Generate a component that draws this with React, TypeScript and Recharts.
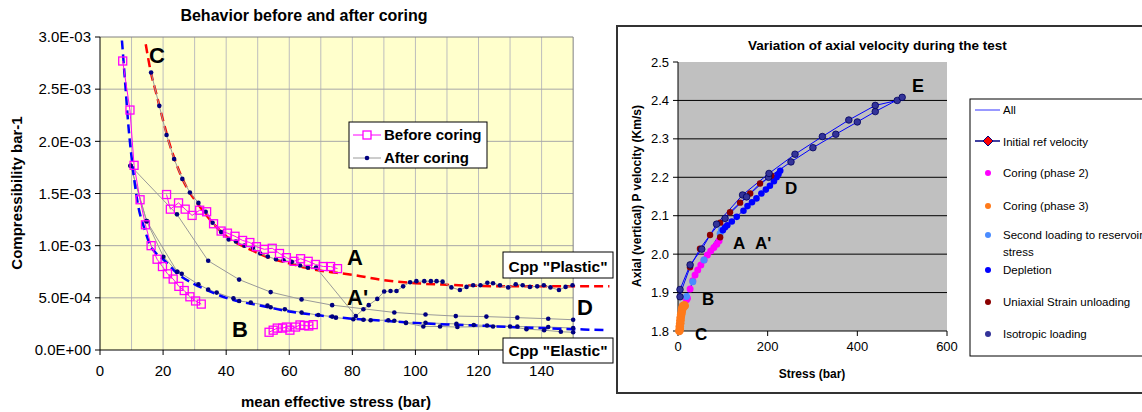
import React from 'react'
import { ComposedChart, Line, XAxis, YAxis, ReferenceLine } from 'recharts'

const FONT = '"Liberation Sans", Arial, sans-serif'

// ---- left chart: compressibility (values in 1E-03 bar-1) ----
const leftXTicks = [0, 20, 40, 60, 80, 100, 120, 140]
const leftYTicks = [0, 0.5, 1, 1.5, 2, 2.5, 3]
const leftYTickLabels = ['0.0E+00', '5.0E-04', '1.0E-03', '1.5E-03', '2.0E-03', '2.5E-03', '3.0E-03']
const leftVGrid = [10, 20, 30, 40, 50, 60, 70, 80, 90, 100, 110, 120, 130, 140]
const leftHGrid = [0.5, 1, 1.5, 2, 2.5]

const beforeSteep = [[7.2, 2.77], [9.5, 2.3], [10.8, 1.77], [12.7, 1.44], [14.4, 1.2], [16.2, 1.0], [18.1, 0.87], [19.8, 0.8], [21.4, 0.73], [23.2, 0.68], [25, 0.61], [26.7, 0.57], [28.5, 0.51], [30.3, 0.47], [32.1, 0.44]]
const beforeUpper = [[21.1, 1.49], [22.3, 1.35], [24.9, 1.41], [27, 1.35], [29.2, 1.29], [31.6, 1.34], [33.8, 1.325], [36, 1.21], [38.4, 1.14], [40.4, 1.12], [42.8, 1.09], [45.2, 1.05], [47.5, 1.03], [49.6, 0.99], [52.1, 0.965], [54.6, 0.975], [56.9, 0.925], [59.1, 0.885], [61.5, 0.85], [63.6, 0.875], [66, 0.85], [68.3, 0.82], [70.8, 0.8], [73.1, 0.8], [75.3, 0.78]]
const beforeB = [[53.6, 0.17], [54.9, 0.19], [56.2, 0.21], [57.9, 0.21], [59.1, 0.22], [60.2, 0.19], [62, 0.22], [63.4, 0.24], [64.8, 0.235], [66.2, 0.23], [67.6, 0.243]]

const afterMain = [[16.2, 2.66], [18.8, 2.34], [21.1, 2.06], [23.5, 1.83], [26.1, 1.64], [28.5, 1.51], [31.2, 1.41], [33.5, 1.325], [35.7, 1.22], [38.4, 1.13], [40.8, 1.06], [43.1, 1.04], [45.8, 1.0], [48.5, 0.98], [50.8, 0.925], [53.2, 0.895], [55.8, 0.87], [58.2, 0.86], [60.8, 0.845], [63.4, 0.81], [65.9, 0.79], [68.5, 0.79], [81.1, 0.325], [83.5, 0.39], [85.2, 0.43], [87.9, 0.49], [90.1, 0.56], [92.1, 0.565], [94, 0.565], [96.1, 0.61], [98.3, 0.65], [100.3, 0.66], [102.8, 0.66], [104.9, 0.66], [106.7, 0.66], [108.6, 0.655], [111.4, 0.6], [114.1, 0.575], [116.2, 0.605], [118.3, 0.62], [120.6, 0.62], [122.8, 0.645], [124.6, 0.64], [126.8, 0.62], [129.4, 0.6], [131.8, 0.63], [134, 0.62], [136.3, 0.605], [138.6, 0.61], [140.7, 0.62], [142.8, 0.6], [145.5, 0.575], [147.6, 0.605], [149.8, 0.62]]
const afterUnload = [[9.7, 1.765], [24.4, 1.3], [34.3, 0.855], [44.1, 0.675], [54.1, 0.555], [63.9, 0.485], [73.6, 0.43], [93.3, 0.36], [103.2, 0.34], [112.8, 0.325], [122.5, 0.32], [132.3, 0.31], [142.1, 0.3], [150, 0.29]]
const afterElastic = [[9.7, 1.765], [14.8, 1.235], [20.1, 0.894], [24.5, 0.75], [25.9, 0.73], [31.2, 0.63], [34.3, 0.58], [37, 0.55], [42.3, 0.495], [44.1, 0.47], [47.8, 0.455], [53.1, 0.425], [54.1, 0.41], [58.6, 0.39], [63.9, 0.36], [69.2, 0.335], [73.6, 0.32], [74.8, 0.31], [80.3, 0.295], [83.5, 0.29], [85.8, 0.285], [91.4, 0.285], [93.3, 0.28], [97, 0.26], [103.2, 0.26], [113, 0.25], [118.5, 0.24], [122.7, 0.235], [132.3, 0.225], [142.1, 0.22], [150, 0.21]]
const afterLower = [[97, 0.26], [102.5, 0.225], [107.8, 0.225], [113.3, 0.22], [124.6, 0.225], [130, 0.225], [135.2, 0.2], [140.8, 0.19], [146.1, 0.175], [150, 0.17]]
const afterSecond = [[9.7, 1.765], [14.8, 1.235], [24.5, 0.75]]

const plasticFit = [[14.5, 2.93], [16, 2.68], [18, 2.44], [20, 2.2], [22, 1.98], [24, 1.8], [26, 1.65], [28, 1.53], [30, 1.44], [33, 1.32], [36, 1.21], [40, 1.09], [45, 1.0], [50, 0.93], [55, 0.87], [60, 0.83], [65, 0.79], [70, 0.76], [75, 0.74], [80, 0.72], [90, 0.67], [100, 0.64], [110, 0.625], [120, 0.615], [130, 0.61], [140, 0.61], [150, 0.61], [161.5, 0.61]]
const elasticFit = [[6.6, 3.1], [7, 2.95], [8, 2.55], [9, 2.15], [10, 1.85], [11, 1.6], [12, 1.4], [14, 1.17], [16, 1.0], [18, 0.92], [20, 0.87], [25, 0.72], [30, 0.63], [35, 0.56], [40, 0.5], [45, 0.46], [50, 0.43], [60, 0.37], [70, 0.33], [80, 0.3], [90, 0.28], [100, 0.26], [110, 0.245], [120, 0.235], [130, 0.22], [140, 0.21], [150, 0.2], [161, 0.19]]

// ---- right chart: axial P velocity (Km/s) vs stress (bar) ----
const rightXTicks = [0, 200, 400, 600]
const rightYTicks = [1.8, 1.9, 2.0, 2.1, 2.2, 2.3, 2.4, 2.5]
const rightHGrid = [1.9, 2.0, 2.1, 2.2, 2.3, 2.4]

const coringPhase2 = [[19, 1.881], [21, 1.885], [27, 1.909], [33, 1.931], [38, 1.946], [44, 1.959], [51, 1.972], [58, 1.985], [65.5, 1.998], [73, 2.008], [80, 2.017], [86.5, 2.026], [91.6, 2.035]]
const coringPhase3 = [[3, 1.8], [4, 1.805], [4, 1.812], [5, 1.82], [5.5, 1.828], [6, 1.835], [7, 1.842], [8, 1.848], [9, 1.855], [10, 1.86], [11, 1.864], [13, 1.866], [15, 1.866]]
const secondLoading = [[4.5, 1.82], [12, 1.862], [19, 1.89], [33, 1.928], [58, 1.985], [94, 2.054], [97, 2.063]]
const depletion = [[100, 2.062], [105, 2.07], [110, 2.075], [120, 2.085], [131, 2.097], [146, 2.113], [155, 2.125], [165, 2.135], [175, 2.145], [186, 2.158], [196, 2.168], [205, 2.178], [214, 2.19], [220, 2.2], [224, 2.208], [228, 2.217]]
const uniaxialUnload = [[208, 2.204], [183, 2.184], [161, 2.158], [138.5, 2.134], [116, 2.109], [94, 2.082], [71.5, 2.05], [49, 2.014], [26.8, 1.966], [94, 2.044]]
const isotropic = [[4.5, 1.889], [4.5, 1.908], [27, 1.972], [53, 2.013], [86, 2.078], [105, 2.093], [144, 2.154], [153, 2.149], [202, 2.2], [203, 2.21], [252, 2.24], [261, 2.26], [301, 2.277], [322, 2.306], [352, 2.312], [381, 2.349], [400, 2.344], [440, 2.371], [440, 2.387], [489, 2.4], [500, 2.408]]

const allLoadUp = [[4.5, 1.889], [4.5, 1.908], [27, 1.972], [53, 2.013], [86, 2.078], [144, 2.154], [203, 2.21], [261, 2.26], [322, 2.306], [381, 2.349], [440, 2.387], [489, 2.4], [500, 2.408]]
const allLoadDown = [[500, 2.408], [440, 2.371], [400, 2.344], [352, 2.312], [301, 2.277], [252, 2.24], [202, 2.2], [153, 2.149], [105, 2.093], [86, 2.078]]
const allUniaxial = [[228, 2.217], [208, 2.204], [183, 2.184], [161, 2.158], [138.5, 2.134], [116, 2.109], [94, 2.082], [71.5, 2.05], [49, 2.014], [26.8, 1.966], [4.5, 1.895]]
const allDepletion = [[3, 1.8], [4.5, 1.82], [12, 1.862], [19, 1.89], [33, 1.928], [58, 1.985], [94, 2.054], [97, 2.063], [100, 2.062], [110, 2.075], [131, 2.097], [155, 2.125], [175, 2.145], [196, 2.168], [214, 2.19], [228, 2.217]]

const pts = (a: number[][]) => a.map(([x, y]) => ({ x, y }))

const navyDot = (p: any) => <circle key={`n${p.index}`} cx={p.cx} cy={p.cy} r={2.3} fill="#000080" />
const pinkSquare = (p: any) => (
  <rect key={`s${p.index}`} x={p.cx - 4} y={p.cy - 4} width={8} height={8} fill="none" stroke="#FF00FF" strokeWidth={1.3} />
)
const circleDot = (fill: string, r: number, stroke?: string) => (p: any) => (
  <circle key={`c${p.index}`} cx={p.cx} cy={p.cy} r={r} fill={fill} stroke={stroke || 'none'} strokeWidth={0.8} />
)

function LeftChart() {
  const tick = { fontSize: 15, fill: '#000', fontFamily: FONT }
  return (
    <ComposedChart width={620} height={412} margin={{ top: 37, right: 9, bottom: 32, left: 10 }}>
      <XAxis dataKey="x" type="number" domain={[0, 162]} ticks={leftXTicks} axisLine={false}
        tickLine={{ stroke: '#000' }} tickSize={5} tickMargin={10} tick={tick} height={30} />
      <YAxis dataKey="y" type="number" domain={[0, 3]} ticks={leftYTicks} allowDataOverflow width={90}
        axisLine={{ stroke: '#000' }} tickLine={{ stroke: '#000' }} tickSize={5} tickMargin={4} tick={tick}
        tickFormatter={(v: number) => leftYTickLabels[leftYTicks.indexOf(v)]} />
      {leftVGrid.map((v) => (
        <ReferenceLine key={`v${v}`} x={v} stroke="#BDBDBD" strokeWidth={1} />
      ))}
      {leftHGrid.map((v) => (
        <ReferenceLine key={`h${v}`} segment={[{ x: 0, y: v }, { x: 150, y: v }]} stroke="#A8A8A8" strokeWidth={1} />
      ))}
      <ReferenceLine segment={[{ x: 0, y: 3 }, { x: 150, y: 3 }]} stroke="#808080" />
      <ReferenceLine segment={[{ x: 150, y: 0 }, { x: 150, y: 3 }]} stroke="#808080" />
      <ReferenceLine segment={[{ x: 0, y: 0 }, { x: 150, y: 0 }]} stroke="#000" />

      <Line data={pts(afterUnload)} dataKey="y" stroke="#9A9A9A" strokeWidth={1} dot={navyDot} isAnimationActive={false} />
      <Line data={pts(afterSecond)} dataKey="y" stroke="#9A9A9A" strokeWidth={1} dot={navyDot} isAnimationActive={false} />
      <Line data={pts(afterLower)} dataKey="y" stroke="#9A9A9A" strokeWidth={1} dot={navyDot} isAnimationActive={false} />
      <Line data={pts(afterElastic)} dataKey="y" stroke="#9A9A9A" strokeWidth={1} dot={navyDot} isAnimationActive={false} />
      <Line data={pts(elasticFit)} dataKey="y" type="monotone" stroke="#0000FF" strokeWidth={2.5} strokeDasharray="9 5" dot={false} isAnimationActive={false} />
      <Line data={pts(plasticFit)} dataKey="y" type="monotone" stroke="#FF0000" strokeWidth={2.5} strokeDasharray="9 5" dot={false} isAnimationActive={false} />
      <Line data={pts(afterMain)} dataKey="y" stroke="#9A9A9A" strokeWidth={1} dot={navyDot} isAnimationActive={false} />
      <Line data={pts(beforeSteep)} dataKey="y" stroke="#FF00FF" strokeWidth={1} dot={pinkSquare} isAnimationActive={false} />
      <Line data={pts(beforeUpper)} dataKey="y" stroke="#FF00FF" strokeWidth={1} dot={pinkSquare} isAnimationActive={false} />
      <Line data={pts(beforeB)} dataKey="y" stroke="#FF00FF" strokeWidth={1} dot={pinkSquare} isAnimationActive={false} />
    </ComposedChart>
  )
}

function RightChart() {
  const tick = { fontSize: 13, fill: '#000', fontFamily: FONT }
  return (
    <ComposedChart width={340} height={366} margin={{ top: 36, right: 13, bottom: 31, left: 18 }}>
      <XAxis dataKey="x" type="number" domain={[0, 600]} ticks={rightXTicks} axisLine={{ stroke: '#000' }}
        tickLine={{ stroke: '#000' }} tickSize={5} tickMargin={6} tick={tick} height={30} />
      <YAxis dataKey="y" type="number" domain={[1.8, 2.5]} ticks={rightYTicks} width={40}
        axisLine={{ stroke: '#000' }} tickLine={{ stroke: '#000' }} tickSize={5} tickMargin={4} tick={tick}
        tickFormatter={(v: number) => v.toFixed(1)} />
      {rightHGrid.map((v) => (
        <ReferenceLine key={`g${v}`} y={v} stroke="#000" strokeWidth={1} />
      ))}
      <Line data={pts(allDepletion)} dataKey="y" stroke="#0000FF" strokeWidth={1} dot={false} isAnimationActive={false} />
      <Line data={pts(allUniaxial)} dataKey="y" stroke="#0000FF" strokeWidth={1} dot={false} isAnimationActive={false} />
      <Line data={pts(allLoadUp)} dataKey="y" stroke="#0000FF" strokeWidth={1} dot={false} isAnimationActive={false} />
      <Line data={pts(allLoadDown)} dataKey="y" stroke="#0000FF" strokeWidth={1} dot={false} isAnimationActive={false} />
      <Line data={pts(coringPhase2)} dataKey="y" stroke="none" dot={circleDot('#FF00FF', 3.5)} isAnimationActive={false} />
      <Line data={pts(secondLoading)} dataKey="y" stroke="none" dot={circleDot('#4A8CFF', 3.5)} isAnimationActive={false} />
      <Line data={pts(coringPhase3)} dataKey="y" stroke="none" dot={circleDot('#FF7A1A', 4.3)} isAnimationActive={false} />
      <Line data={pts(depletion)} dataKey="y" stroke="none" dot={circleDot('#0000FF', 3.3)} isAnimationActive={false} />
      <Line data={pts(uniaxialUnload)} dataKey="y" stroke="none" dot={circleDot('#8B0000', 3.2)} isAnimationActive={false} />
      <Line data={pts(isotropic)} dataKey="y" stroke="none" dot={circleDot('#333399', 3.3, '#00005A')} isAnimationActive={false} />
    </ComposedChart>
  )
}

const rightLegend = [
  { label: 'Coring (phase 2)', color: '#FF00FF', y: 173 },
  { label: 'Coring (phase 3)', color: '#FF7A1A', y: 206 },
  { label: 'Second loading to reservoir', color: '#4A8CFF', y: 235 },
  { label: 'Depletion', color: '#0000FF', y: 270 },
  { label: 'Uniaxial Strain unloading', color: '#8B0000', y: 302 },
  { label: 'Isotropic loading', color: '#333399', y: 334 },
]

function Overlay() {
  const bold = { fontFamily: FONT, fontWeight: 700 }
  return (
    <svg width={1142} height={412} style={{ position: 'absolute', left: 0, top: 0, pointerEvents: 'none' }}>
      {/* left chart texts */}
      <text x={304} y={21} textAnchor="middle" fontSize={16} {...bold}>Behavior before and after coring</text>
      <text x={22} y={193} textAnchor="middle" fontSize={15} transform="rotate(-90 22 193)" {...bold}>Compressibility bar-1</text>
      <text x={336} y={407} textAnchor="middle" fontSize={15} {...bold}>mean effective stress (bar)</text>

      <rect x={349} y={122} width={138} height={46} fill="#fff" stroke="#000" />
      <line x1={353} y1={135} x2={381} y2={135} stroke="#FF00FF" />
      <rect x={363} y={131} width={8} height={8} fill="#fff" stroke="#FF00FF" strokeWidth={1.3} />
      <text x={384} y={140} fontSize={15} {...bold}>Before coring</text>
      <line x1={353} y1={158} x2={381} y2={158} stroke="#9A9A9A" />
      <circle cx={367} cy={158} r={2.3} fill="#000080" />
      <text x={384} y={163} fontSize={15} {...bold}>After coring</text>

      <text x={149} y={63} fontSize={22} {...bold}>C</text>
      <text x={347} y={265} fontSize={22} {...bold}>A</text>
      <text x={347} y={305} fontSize={22} {...bold}>A'</text>
      <text x={232} y={337} fontSize={22} {...bold}>B</text>
      <text x={577} y={315} fontSize={22} {...bold}>D</text>

      <rect x={503} y={252} width={110} height={26} fill="#fff" stroke="#000" />
      <text x={558} y={272} textAnchor="middle" fontSize={15.5} {...bold}>Cpp "Plastic"</text>
      <rect x={503} y={338} width={110} height={25} fill="#fff" stroke="#000" />
      <text x={558} y={356} textAnchor="middle" fontSize={15.5} {...bold}>Cpp "Elastic"</text>

      {/* right chart frame and texts */}
      <rect x={617} y={26} width={540} height={367} fill="none" stroke="#333" strokeWidth={2} />
      <text x={748} y={50} fontSize={13.5} {...bold}>Variation of axial velocity during the test</text>
      <text x={641} y={196} textAnchor="middle" fontSize={12} transform="rotate(-90 641 196)" {...bold}>Axial (vertical) P velocity (Km/s)</text>
      <text x={812} y={378} textAnchor="middle" fontSize={12} {...bold}>Stress (bar)</text>
      <text x={912} y={92} fontSize={18} {...bold}>E</text>
      <text x={785} y={194} fontSize={17} {...bold}>D</text>
      <text x={733} y={249} fontSize={17} {...bold}>A</text>
      <text x={755} y={249} fontSize={17} {...bold}>A'</text>
      <text x={702} y={305} fontSize={17} {...bold}>B</text>
      <text x={695} y={340} fontSize={17} {...bold}>C</text>

      <rect x={970} y={99} width={200} height={257} fill="#fff" stroke="#000" />
      <line x1={975} y1={110} x2={1000} y2={110} stroke="#3333FF" />
      <text x={1003} y={114} fontSize={11.5} fontFamily={FONT}>All</text>
      <line x1={975} y1={141} x2={1000} y2={141} stroke="#000080" strokeWidth={1.5} />
      <polygon points="988,136 993,141 988,146 983,141" fill="#FF0000" stroke="#000080" />
      <text x={1003} y={145.5} fontSize={11.5} fontFamily={FONT}>Initial ref velocity</text>
      {rightLegend.map((d) => (
        <g key={d.label}>
          <circle cx={988} cy={d.y} r={3} fill={d.color} />
          <text x={1003} y={d.y + 4} fontSize={11.5} fontFamily={FONT}>{d.label}</text>
        </g>
      ))}
      <text x={1003} y={256} fontSize={11.5} fontFamily={FONT}>stress</text>
    </svg>
  )
}

export default function App() {
  return (
    <div style={{ position: 'fixed', left: 0, top: 0, width: 1142, height: 412, overflow: 'hidden', background: '#fff' }}>
      <div style={{ position: 'absolute', left: 100, top: 37, width: 473, height: 313, background: '#FFFFCC' }} />
      <div style={{ position: 'absolute', left: 617, top: 26, width: 540, height: 367, background: '#fff' }} />
      <div style={{ position: 'absolute', left: 678, top: 62, width: 269, height: 269, background: '#C0C0C0' }} />
      <div style={{ position: 'absolute', left: 0, top: 0 }}>
        <LeftChart />
      </div>
      <div style={{ position: 'absolute', left: 620, top: 26 }}>
        <RightChart />
      </div>
      <Overlay />
    </div>
  )
}
